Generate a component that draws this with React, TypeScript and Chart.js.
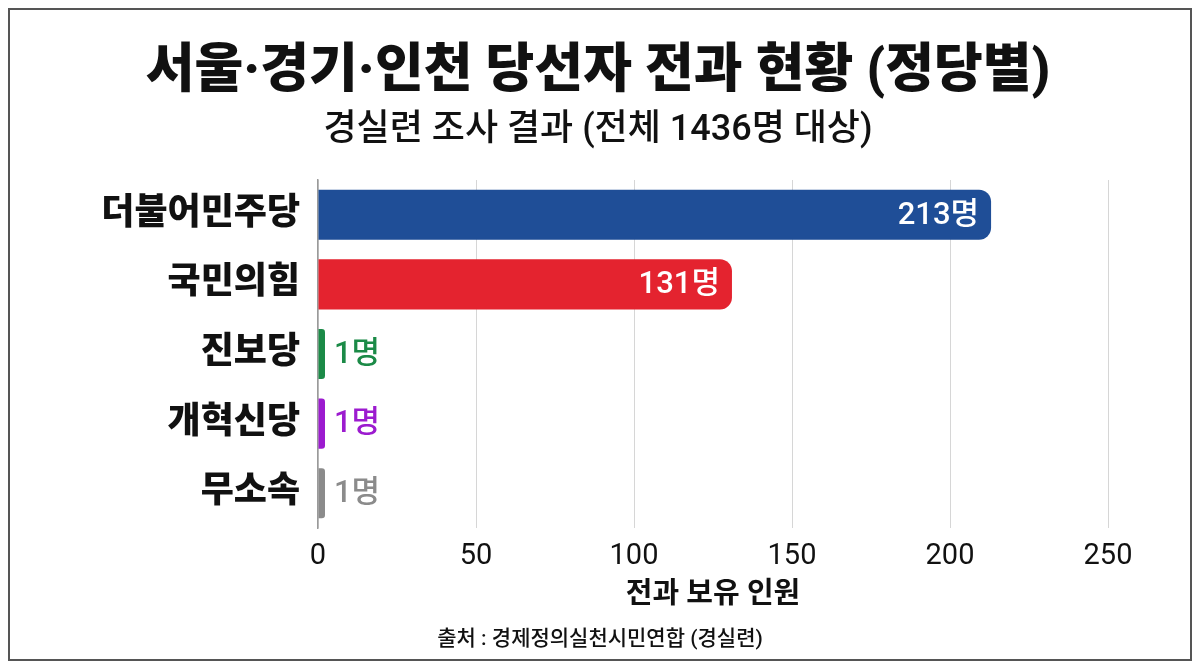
import { useEffect, useRef } from "react"
import { Chart, registerables, ChartConfiguration, Plugin } from "chart.js"

Chart.register(...registerables)

const FONT = "Roboto, 'Noto Sans CJK KR', sans-serif"

const chartTitle = "서울·경기·인천 당선자 전과 현황 (정당별)"
const chartSubtitle = "경실련 조사 결과 (전체 1436명 대상)"
const sourceNote = "출처 : 경제정의실천시민연합 (경실련)"
const axisTitle = "전과 보유 인원"

const parties = ["더불어민주당", "국민의힘", "진보당", "개혁신당", "무소속"]
const convictCounts = [213, 131, 1, 1, 1]
const barColors = ["#1f4e97", "#e4232f", "#1b8a47", "#9c1bcf", "#8b8b8b"]
const xTickValues = [0, 50, 100, 150, 200, 250]
const unit = "명"

// title, subtitle and source drawn straight on the canvas
const headingPlugin: Plugin = {
  id: "headings",
  afterDraw(chart) {
    const { ctx } = chart
    ctx.save()
    ctx.fillStyle = "#111"
    ctx.textAlign = "center"
    ctx.textBaseline = "middle"
    ctx.font = `900 53px ${FONT}`
    ctx.fillText(chartTitle, 588, 64)
    ctx.font = `500 36px ${FONT}`
    ctx.fillText(chartSubtitle, 588, 121)
    ctx.font = `500 21px ${FONT}`
    ctx.fillText(sourceNote, 590, 630)
    ctx.restore()
  },
}

// value labels: inside the end for long bars, just after it for short ones
const valueLabelPlugin: Plugin = {
  id: "valueLabels",
  afterDatasetsDraw(chart) {
    const { ctx } = chart
    const meta = chart.getDatasetMeta(0)
    ctx.save()
    ctx.font = `500 31px ${FONT}`
    ctx.textBaseline = "middle"
    meta.data.forEach((bar: any, i) => {
      const v = convictCounts[i]
      const text = `${v}${unit}`
      if (v > 20) {
        ctx.fillStyle = "#fff"
        ctx.textAlign = "right"
        ctx.fillText(text, bar.x - 12, bar.y + 1)
      } else {
        ctx.fillStyle = barColors[i]
        ctx.textAlign = "left"
        ctx.fillText(text, bar.x + 9, bar.y + 1)
      }
    })
    ctx.restore()
  },
}

export default function App() {
  const canvasRef = useRef<HTMLCanvasElement>(null)
  const chartRef = useRef<Chart | null>(null)

  useEffect(() => {
    if (!canvasRef.current) return
    if (chartRef.current) chartRef.current.destroy()

    const config: ChartConfiguration = {
      type: "bar",
      data: {
        labels: parties,
        datasets: [
          {
            data: convictCounts,
            backgroundColor: barColors,
            borderRadius: 12,
            borderSkipped: "start",
            barPercentage: 0.72,
            categoryPercentage: 1,
            minBarLength: 7,
          },
        ],
      },
      options: {
        indexAxis: "y",
        responsive: true,
        maintainAspectRatio: false,
        animation: false,
        layout: { padding: { top: 170, right: 82, bottom: 46, left: 0 } },
        plugins: {
          legend: { display: false },
          tooltip: { enabled: false },
          title: { display: false },
        },
        scales: {
          x: {
            min: 0,
            max: 250,
            afterFit(scale) {
              scale.height = 85
            },
            afterBuildTicks(scale) {
              scale.ticks = xTickValues.map((value) => ({ value }))
            },
            grid: { color: "#d6d6d6", drawTicks: false, lineWidth: 1 },
            border: { display: false },
            ticks: {
              padding: 11,
              color: "#111",
              font: { family: FONT, size: 29 },
            },
            title: {
              display: true,
              text: axisTitle,
              color: "#111",
              padding: 0,
              font: { family: FONT, size: 29, weight: "bold" },
            },
          },
          y: {
            afterFit(scale) {
              scale.width = 308
            },
            grid: { display: false },
            border: { display: true, color: "#9a9a9a", width: 1.5 },
            ticks: {
              padding: 10,
              color: "#111",
              font: { family: FONT, size: 36, weight: 900 },
            },
          },
        },
      },
      plugins: [headingPlugin, valueLabelPlugin],
    }

    chartRef.current = new Chart(canvasRef.current, config)

    return () => {
      if (chartRef.current) {
        chartRef.current.destroy()
        chartRef.current = null
      }
    }
  }, [])

  return (
    <div
      style={{
        width: 1184,
        height: 653,
        boxSizing: "border-box",
        border: "2px solid #555",
        background: "#fff",
        position: "relative",
      }}
    >
      <div style={{ position: "relative", width: 1180, height: 649 }}>
        <canvas ref={canvasRef} />
      </div>
    </div>
  )
}
